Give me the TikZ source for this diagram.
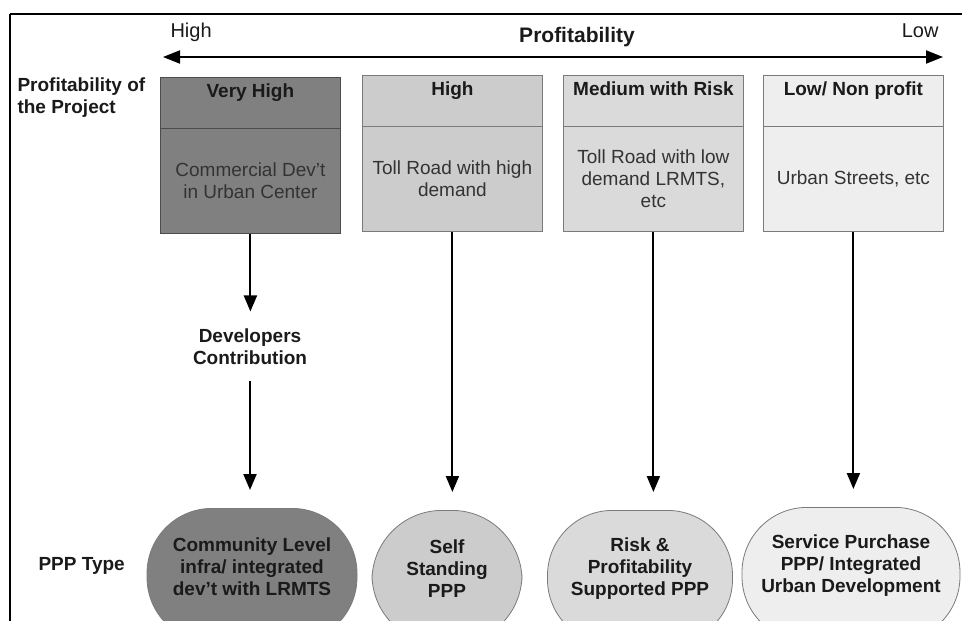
\documentclass[tikz,border=0pt]{standalone}
\usepackage{fontspec}
\setmainfont{Liberation Sans}
\usetikzlibrary{arrows.meta}
\definecolor{tone1}{HTML}{808080}
\definecolor{tone2}{HTML}{CCCCCC}
\definecolor{tone3}{HTML}{DADADA}
\definecolor{tone4}{HTML}{EEEEEE}
\definecolor{edge}{HTML}{7A7A7A}
\definecolor{ink}{HTML}{1A1A1A}
\definecolor{softink}{HTML}{333333}
\begin{document}
\begin{tikzpicture}[x=1pt,y=-1pt,
  frame/.style={line width=2.2pt,black},
  axis/.style={line width=2pt,{Triangle[length=17pt,width=13pt]}-{Triangle[length=17pt,width=13pt]}},
  flow/.style={line width=2pt,-{Triangle[length=16pt,width=13pt]}},
  head/.style={draw=edge,line width=0.8pt,anchor=north west,minimum width=180pt,
    inner xsep=0pt,inner ysep=0pt,text height=20pt,text depth=31pt,
    font=\bfseries\fontsize{19}{22}\selectfont,text=ink},
  body/.style={draw=edge,line width=0.8pt,anchor=north west,minimum width=180pt,
    minimum height=105pt,inner sep=0pt,align=center,
    font=\fontsize{19}{22}\selectfont,text=softink},
  ppp/.style={draw=edge,line width=0.8pt,anchor=north,rounded corners=65pt,
    minimum height=134pt,inner sep=0pt},
  ppptext/.style={align=center,font=\bfseries\fontsize{19}{22}\selectfont,text=ink,yshift=9pt},
  side/.style={anchor=west,align=left,font=\bfseries\fontsize{19}{22}\selectfont,text=ink},
  endlabel/.style={font=\fontsize{20}{22}\selectfont,text=ink}
]
\useasboundingbox (0,0) rectangle (962,621);
\clip (0,0) rectangle (962,621);

% outer frame (top and left edges)
\draw[frame] (10,14) -- (964,14);
\draw[frame] (10,14) -- (10,623);

% profitability scale
\node[endlabel,anchor=base west] (hi) at (167,37) {High};
\node[endlabel,anchor=base east] (lo) at (942,37) {Low};
\node[font=\bfseries\fontsize{21}{24}\selectfont,text=ink,anchor=base] (title) at (577,42) {Profitability};
\coordinate (axL) at (163,57);
\coordinate (axR) at (943,57);
\draw[axis] (axL) -- (axR);

% row labels
\node[side] (rowA) at (14,98) {Profitability of\\the Project};
\node[side,anchor=base west] (rowB) at (35,570) {PPP Type};

% project categories
\node[head,fill=tone1,draw=black!70] (h1) at (160,77) {Very High};
\node[body,fill=tone1,draw=black!70] (b1) at (160,128) {Commercial Dev't\\in Urban Center};

\node[head,fill=tone2] (h2) at (362,75) {High};
\node[body,fill=tone2] (b2) at (362,126) {Toll Road with high\\demand};

\node[head,fill=tone3] (h3) at (563,75) {Medium with Risk};
\node[body,fill=tone3] (b3) at (563,126) {Toll Road with low\\demand LRMTS,\\etc};

\node[head,fill=tone4] (h4) at (763,75) {Low/ Non profit};
\node[body,fill=tone4] (b4) at (763,126) {Urban Streets, etc};

% intermediate step
\node[font=\bfseries\fontsize{19}{22}\selectfont,text=ink,align=center] (dev) at (250,347) {Developers\\Contribution};

% PPP types
\node[ppp,fill=tone1,minimum width=210pt,
  label={[ppptext]center:Community Level\\infra/ integrated\\dev't with LRMTS}] (p1) at (252,508) {};
\node[ppp,fill=tone2,minimum width=150pt,rounded corners=70pt,
  label={[ppptext]center:Self\\Standing\\PPP}] (p2) at (447,510) {};
\node[ppp,fill=tone3,minimum width=185pt,
  label={[ppptext]center:Risk \&\\Profitability\\Supported PPP}] (p3) at (640,510) {};
\node[ppp,fill=tone4,minimum width=218pt,
  label={[ppptext]center:Service Purchase\\PPP/ Integrated\\Urban Development}] (p4) at (851,507) {};

% connectors
\draw[flow,shorten >=14pt] (b1.south) -- (b1.south |- dev.north);
\draw[flow,shorten <=12pt,shorten >=18pt] (dev.south) -- (dev.south |- p1.north);
\draw[flow,shorten >=18pt] (b2.south) -- (b2.south |- p2.north);
\draw[flow,shorten >=18pt] (b3.south) -- (b3.south |- p3.north);
\draw[flow,shorten >=18pt] (b4.south) -- (b4.south |- p4.north);
\end{tikzpicture}
\end{document}
